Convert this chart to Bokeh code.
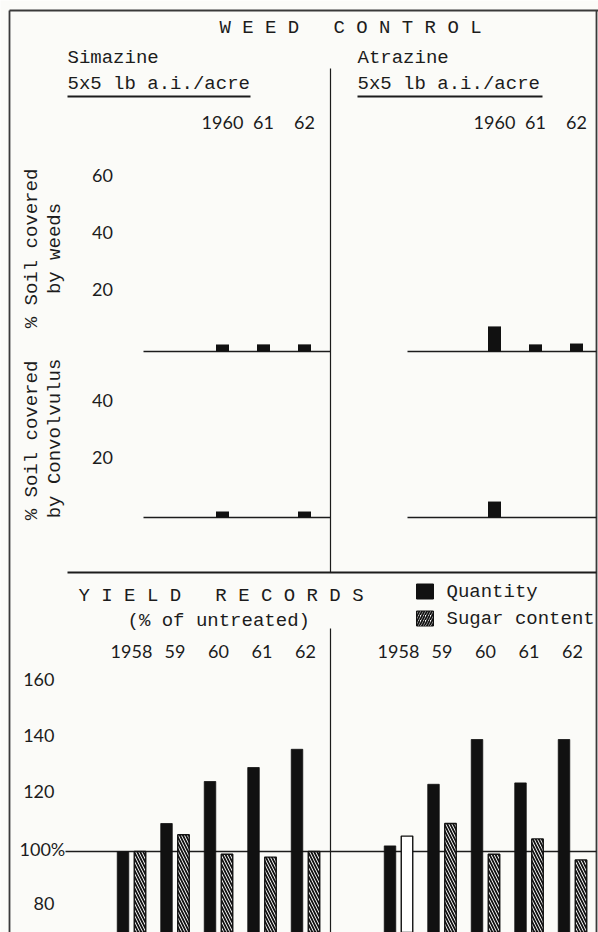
import math
from bokeh.plotting import figure
from bokeh.models import Range1d, ColumnDataSource
from bokeh.core.properties import value
from bokeh.embed import file_html
from bokeh.resources import INLINE

# ---------------- data ----------------
weed_years = ["1960", "61", "62"]
weeds_simazine = [2.5, 2.5, 2.5]
weeds_atrazine = [8.8, 2.5, 2.8]
convolvulus_simazine = [2.1, 0.0, 2.1]
convolvulus_atrazine = [5.6, 0.0, 0.0]
weed_ticks = [20, 40, 60]
convolvulus_ticks = [20, 40]

yield_years = ["1958", "59", "60", "61", "62"]
quantity_simazine = [100, 110, 125, 130, 136.5]
sugar_simazine = [100, 106, 99, 98, 100]
quantity_atrazine = [102, 124, 140, 124.5, 140]
sugar_atrazine = [105.5, 110, 99, 104.5, 97]
sugar_atrazine_hatched = [False, True, True, True, True]
yield_ticks = [80, 120, 140, 160]
yield_reference = 100

# ---------------- layout / style ----------------
INK = "#1c1c1c"
PAPER = "#fbfbf8"
MONO = "Liberation Mono"
NUM = "Lato"
NB = "\u00a0"
W, H = 598, 932
TOP, LEFT = 0, 0
BOTTOM, RIGHT = TOP + H, LEFT + W

WEED_PX = 2.85
WEED_ZERO = 351
CONV_ZERO = 517
YIELD_PX = 2.8
YIELD_REF_Y = 851

p = figure(width=W, height=H, output_backend="svg", toolbar_location=None,
           x_range=Range1d(LEFT, RIGHT), y_range=Range1d(BOTTOM, TOP),
           x_axis_location=None, y_axis_location=None, title=None,
           min_border=0)
p.xgrid.visible = False
p.ygrid.visible = False
p.outline_line_color = None
p.background_fill_color = PAPER
p.border_fill_color = PAPER

p.extra_y_ranges = {
    "weeds": Range1d(start=(WEED_ZERO - BOTTOM) / WEED_PX, end=(WEED_ZERO - TOP) / WEED_PX),
    "conv": Range1d(start=(CONV_ZERO - BOTTOM) / WEED_PX, end=(CONV_ZERO - TOP) / WEED_PX),
    "yield": Range1d(start=yield_reference - (BOTTOM - YIELD_REF_Y) / YIELD_PX,
                     end=yield_reference + (YIELD_REF_Y - TOP) / YIELD_PX),
}


def txt(x, y, s, size=19, font=MONO, align="left", baseline="middle", angle=0.0,
        rng="default", yoff=0):
    p.text(x=x, y=y, text=s, text_font=value(font), text_font_size=value(f"{size}px"),
           text_align=align, text_baseline=baseline, angle=angle, text_color=INK,
           y_range_name=rng, y_offset=yoff)


# frame lines of the original drawing
p.segment(x0=[9, 9, 596], y0=[10, 10, 10], x1=[9, 598, 596], y1=[BOTTOM, 10, BOTTOM],
          line_color="#3a3a3a", line_width=1.8)

# ---------------- weed control section ----------------
txt([350], [27], [NB.join("WEED") + NB * 3 + NB.join("CONTROL")], align="center")
txt([67, 357], [57, 57], ["Simazine", "Atrazine"])
txt([67, 357], [83, 83], ["5x5 lb a.i./acre", "5x5 lb a.i./acre"])
p.segment(x0=[67, 357], x1=[250, 542], y0=[96, 96], y1=[96, 96], line_color=INK, line_width=1.8)

# divider
p.segment(x0=[330, 330], x1=[330, 330], y0=[68, 628], y1=[572, BOTTOM], line_color=INK, line_width=1.2)
# separator between sections
p.segment(x0=[67], x1=[596], y0=[572], y1=[572], line_color=INK, line_width=2)

weed_left_x = [222 + 41 * i for i in range(len(weed_years))]
weed_right_x = [494 + 41 * i for i in range(len(weed_years))]

txt(weed_left_x + weed_right_x, [122] * 6, weed_years + weed_years, size=18, font=NUM, align="center")

# rotated axis titles
txt([31, 54], [248, 248], ["%" + NB + "Soil covered", "by weeds"], align="center", angle=math.pi / 2)
txt([31, 54], [440, 438], ["%" + NB + "Soil covered", "by Convolvulus"], align="center", angle=math.pi / 2)

# tick labels
txt([102] * len(weed_ticks), weed_ticks, [str(t) for t in weed_ticks], size=18, font=NUM,
    align="center", rng="weeds", yoff=-5)
txt([102] * len(convolvulus_ticks), convolvulus_ticks, [str(t) for t in convolvulus_ticks], size=18,
    font=NUM, align="center", rng="conv", yoff=-3)

for rng in ("weeds", "conv"):
    p.segment(x0=[143, 407], x1=[330, 596], y0=[0, 0], y1=[0, 0], line_color=INK,
              line_width=1.6, y_range_name=rng)

p.vbar(x=weed_left_x + weed_right_x, top=weeds_simazine + weeds_atrazine, bottom=0, width=13,
       fill_color="#111111", line_color=None, y_range_name="weeds")
p.vbar(x=weed_left_x + weed_right_x, top=convolvulus_simazine + convolvulus_atrazine, bottom=0,
       width=13, fill_color="#111111", line_color=None, y_range_name="conv")

# ---------------- yield section ----------------
txt([78], [595], [NB.join("YIELD") + NB * 3 + NB.join("RECORDS")])
txt([127], [620], ["(% of untreated)"])

# legend
p.rect(x=[424.5, 424.5], y=[591, 618], width=17, height=15, fill_color=["#111111", "white"],
       line_color="#111111", line_width=1,
       hatch_pattern=[" ", "right_diagonal_line"], hatch_color="#111111", hatch_scale=5, hatch_weight=1.8)
txt([446, 446], [591, 618], ["Quantity", "Sugar content"])

yl = [131 + 43.5 * i for i in range(len(yield_years))]
yr = [398 + 43.5 * i for i in range(len(yield_years))]
txt(yl + yr, [651] * 10, yield_years + yield_years, size=18, font=NUM, align="center")

# y tick labels
txt([54] * len(yield_ticks), yield_ticks, [str(t) for t in yield_ticks], size=18, font=NUM,
    align="right", rng="yield", yoff=-4)
txt([19], [yield_reference], ["100%"], size=18, font=NUM, align="left", rng="yield", yoff=-3)

# 100% reference line
p.segment(x0=[65], x1=[596], y0=[yield_reference], y1=[yield_reference], line_color=INK,
          line_width=1.6, y_range_name="yield")

q_x = [c - 8.5 for c in yl] + [c - 8.5 for c in yr]
s_x = [c + 8.5 for c in yl] + [c + 8.5 for c in yr]
p.vbar(x=q_x, top=quantity_simazine + quantity_atrazine, bottom=0, width=11.5,
       fill_color="#111111", line_color="#111111", line_width=0.8, y_range_name="yield")

hatches = ["left_diagonal_line"] * len(sugar_simazine) + \
          ["left_diagonal_line" if h else " " for h in sugar_atrazine_hatched]
src = ColumnDataSource(dict(x=s_x, top=sugar_simazine + sugar_atrazine, hatch=hatches))
p.vbar(x="x", top="top", bottom=0, width=11.5, source=src, fill_color="white",
       line_color="#111111", line_width=1.4, hatch_pattern="hatch", hatch_color="#111111",
       hatch_scale=6, hatch_weight=1.8, y_range_name="yield")

open("out.html", "w").write(file_html(p, INLINE))
